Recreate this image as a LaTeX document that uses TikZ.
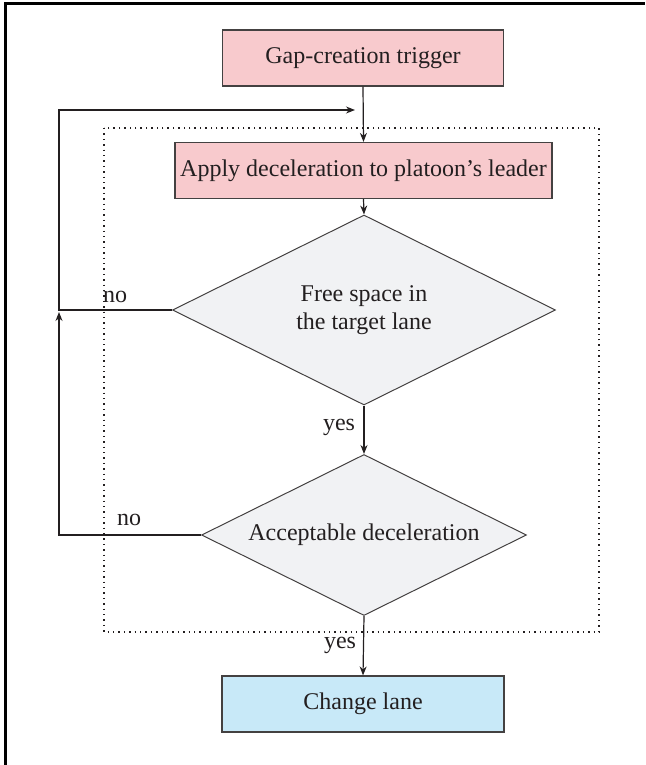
\documentclass[tikz,border=0pt]{standalone}
\usepackage{fontspec}
\setmainfont{Liberation Serif}
\usetikzlibrary{shapes.geometric,arrows.meta}
\definecolor{pinkfill}{RGB}{248,202,205}
\definecolor{grayfill}{RGB}{241,242,244}
\definecolor{bluefill}{RGB}{200,233,248}
\definecolor{ink}{RGB}{35,31,32}
\begin{document}
\begin{tikzpicture}[x=0.5pt,y=-0.5pt,
  every node/.style={font=\fontsize{12}{14}\selectfont, text=ink},
  procbox/.style={draw=ink!85, line width=0.6pt, rectangle, inner sep=0pt, minimum height=28pt},
  decision/.style={draw=ink!85, line width=0.5pt, diamond, aspect=2, inner sep=0pt, fill=grayfill, align=center},
  flow/.style={draw=ink, line width=0.6pt, -{Stealth[length=4.5pt,width=3.5pt]}},
  lbl/.style={inner sep=0pt}
]
\useasboundingbox (0,0) rectangle (645,765);
% outer frame (only left and top edges visible)
\draw[line width=1.4pt, black, line cap=butt] (5.5,765) -- (5.5,3.5) -- (645,3.5);
% dotted region
\draw[dotted, line width=0.7pt, ink] (104,128) rectangle (599,632);

\node[procbox, fill=pinkfill, minimum width=140.5pt] (gap) at (363,58) {Gap-creation trigger};
\node[procbox, fill=pinkfill, minimum width=188.5pt] (apply) at (363.5,170.5) {Apply deceleration to platoon’s leader};
\node[decision, minimum width=191.5pt, minimum height=95pt] (free) at (364,310) {Free space in\\the target lane};
\node[decision, minimum width=162.5pt, minimum height=80.5pt] (acc) at (364,535) {Acceptable deceleration};
\node[procbox, fill=bluefill, minimum width=141pt] (change) at (363,704) {Change lane};

\coordinate (fbA) at (59,310);
\coordinate (fbB) at (59,110);
\coordinate (fbTip) at (355,110);
\coordinate (fbC) at (59,535);
\coordinate (fbD) at (59,312);

\draw[flow] (gap.south) -- (apply.north);
\draw[flow] (apply.south) -- (free.north);
\draw[flow] (free.south) -- (acc.north);
\draw[flow] (acc.south) -- (change.north);
\draw[flow] (free.west) -- (fbA) -- (fbB) -- (fbTip);
\draw[flow] (acc.west) -- (fbC) -- (fbD);

\node[lbl] (no1) at (115,297) {no};
\node[lbl] (no2) at (129,520) {no};
\node[lbl] (yes1) at (339,427) {yes};
\node[lbl] (yes2) at (340,645) {yes};
\end{tikzpicture}
\end{document}
